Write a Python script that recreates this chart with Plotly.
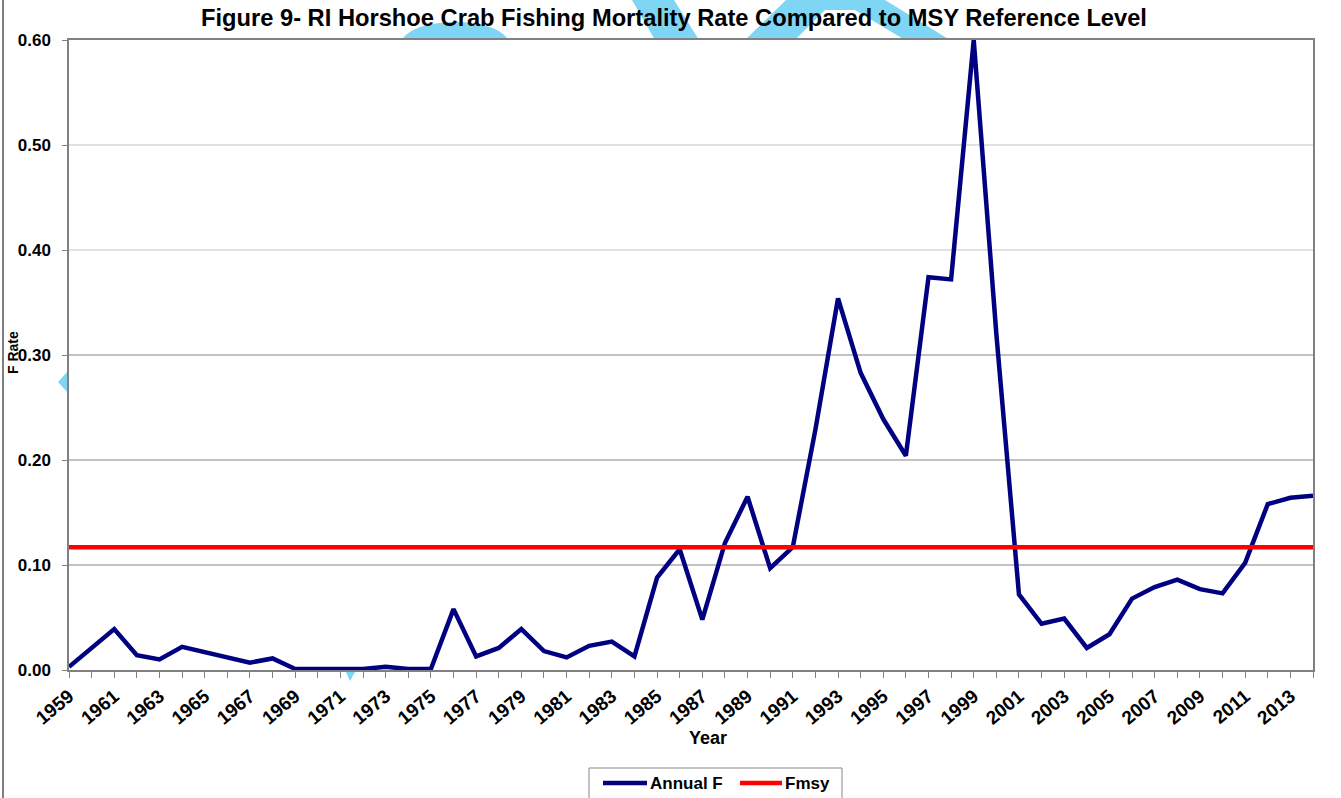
import plotly.graph_objects as go

# ---------------- data ----------------
years = list(range(1959, 2015))
annual_f = [0.003, 0.021, 0.039, 0.014, 0.010, 0.022, 0.017, 0.013, 0.007, 0.011,
            0.001, 0.001, 0.001, 0.001, 0.003, 0.001, 0.001, 0.058, 0.013, 0.021,
            0.039, 0.018, 0.012, 0.023, 0.027, 0.013, 0.088, 0.115, 0.048, 0.121,
            0.165, 0.097, 0.117, 0.229, 0.354, 0.283, 0.239, 0.204, 0.374, 0.372,
            0.600, 0.320, 0.072, 0.044, 0.049, 0.021, 0.034, 0.068, 0.079, 0.086,
            0.077, 0.073, 0.102, 0.158, 0.164, 0.166]
fmsy_value = 0.117
fmsy = [fmsy_value] * len(years)
series_names = ["Annual F", "Fmsy"]
series_colors = ["#000080", "#FF0000"]
y_ticks = [0.0, 0.1, 0.2, 0.3, 0.4, 0.5, 0.6]
y_tick_labels = ["0.00", "0.10", "0.20", "0.30", "0.40", "0.50", "0.60"]
x_tick_years = list(range(1959, 2014, 2))
x_tick_labels = [str(y) for y in x_tick_years]

# ---------------- layout geometry ----------------
W, H = 1341, 798
L, R, T, B = 69, 1313, 40, 670
FONT = "Liberation Sans, Arial, sans-serif"


def px(x):
    return (x - L) / (R - L)


def py(y):
    return (B - y) / (B - T)


fig = go.Figure()
fig.add_trace(go.Scatter(x=years, y=annual_f, mode="lines", name=series_names[0],
                         line=dict(color=series_colors[0], width=4.5), showlegend=False))
fig.add_trace(go.Scatter(x=years, y=fmsy, mode="lines", name=series_names[1],
                         line=dict(color=series_colors[1], width=4.5), showlegend=False))

# decorative light-blue watermark fragments (outside plot area)
blue = "#7FD5F4"
shapes = []


def poly(points):
    d = "M " + " L ".join(f"{px(a):.5f},{py(b):.5f}" for a, b in points) + " Z"
    return dict(type="path", path=d, xref="paper", yref="paper",
                fillcolor=blue, line=dict(width=0), layer="below")


dome = (f"M {px(402):.5f},{py(40):.5f} C {px(414):.5f},{py(16):.5f} "
        f"{px(496):.5f},{py(16):.5f} {px(508):.5f},{py(40):.5f} Z")
shapes.append(dict(type="path", path=dome, xref="paper", yref="paper",
                   fillcolor=blue, line=dict(width=0), layer="below"))
shapes.append(poly([(632, 0), (674, 0), (699, 40), (655, 40)]))
shapes.append(poly([(745, 40), (786, 0), (885, 0), (950, 40), (905, 40), (855, 10), (825, 10), (795, 40)]))
shapes.append(poly([(58, 382), (69, 370), (69, 394)]))
shapes.append(poly([(346, 672), (355, 672), (350, 681)]))
# outer frame line at left
shapes.append(dict(type="line", xref="paper", yref="paper", x0=px(3), x1=px(3),
                   y0=py(0), y1=py(798), line=dict(color="#555555", width=1.5)))

# horizontal gridlines (upper ones lighter, as in the reference)
grid_colors = {0.1: "#858585", 0.2: "#858585", 0.3: "#858585", 0.4: "#c4c4c4", 0.5: "#c4c4c4"}
for v in y_ticks[1:-1]:
    shapes.append(dict(type="line", xref="paper", yref="y", x0=0, x1=1, y0=v, y1=v,
                       line=dict(color=grid_colors[round(v, 1)], width=1.2), layer="below"))

# manual legend (box cut off by the bottom edge as in the reference)
shapes.append(dict(type="rect", xref="paper", yref="paper", x0=px(589), x1=px(842),
                   y0=py(768), y1=py(812), line=dict(color="#888888", width=1),
                   fillcolor="white"))
annotations = []
legend_items = [(603, 647), (740, 782)]
for (x0, x1), name, color in zip(legend_items, series_names, series_colors):
    shapes.append(dict(type="line", xref="paper", yref="paper", x0=px(x0), x1=px(x1),
                       y0=py(783), y1=py(783), line=dict(color=color, width=4.5)))
    annotations.append(dict(text=f"<b>{name}</b>", x=px(x1 + 1), y=py(783), xref="paper",
                            yref="paper", xanchor="left", yanchor="middle", showarrow=False,
                            font=dict(family=FONT, size=17, color="#000")))

annotations += [
    dict(text="<b>F Rate</b>", x=px(13), y=py(353), xref="paper", yref="paper",
         xanchor="center", yanchor="middle",
         showarrow=False, textangle=-90, font=dict(family=FONT, size=14, color="#000")),
    dict(text="<b>Year</b>", x=px(708), y=py(738), xref="paper", yref="paper",
         xanchor="center", yanchor="middle",
         showarrow=False, font=dict(family=FONT, size=18, color="#000")),
]

fig.update_layout(
    width=W, height=H, autosize=False,
    margin=dict(l=L, r=W - R, t=T, b=H - B, pad=0),
    paper_bgcolor="white", plot_bgcolor="white",
    title=dict(text="<b>Figure 9- RI Horshoe Crab Fishing Mortality Rate Compared to MSY Reference Level</b>",
               x=px(674), xref="paper", xanchor="center",
               y=1 - 18 / H, yref="container", yanchor="middle",
               font=dict(family=FONT, size=23.7, color="#000")),
    showlegend=False,
    shapes=shapes,
    annotations=annotations,
    font=dict(family=FONT, color="#000"),
)

fig.update_xaxes(range=[1959, 2014], tickmode="array", tickvals=x_tick_years,
                 ticktext=[f"<b>{t}</b>" for t in x_tick_labels], tickangle=-40,
                 ticks="outside", ticklen=6, tickcolor="#808080", tickwidth=1,
                 minor=dict(ticks="outside", dtick=1, tick0=1959, ticklen=6,
                            tickcolor="#808080", tickwidth=1, showgrid=False),
                 showline=True, linecolor="#808080", linewidth=1.5, mirror=True,
                 showgrid=False, zeroline=False, automargin=False,
                 tickfont=dict(family=FONT, size=19, color="#000"))
fig.update_yaxes(range=[0, 0.6], tickmode="array", tickvals=y_ticks,
                 ticktext=[f"<b>{t}</b>" for t in y_tick_labels],
                 ticks="outside", ticklen=5, tickcolor="#808080",
                 showline=True, linecolor="#808080", linewidth=1.5, mirror=True,
                 showgrid=False, zeroline=False, automargin=False,
                 ticklabelstandoff=8,
                 tickfont=dict(family=FONT, size=17, color="#000"))

fig.write_html("out.html", config={"displayModeBar": False},
               post_script="document.body.style.margin='0';document.body.style.overflow='hidden';")
